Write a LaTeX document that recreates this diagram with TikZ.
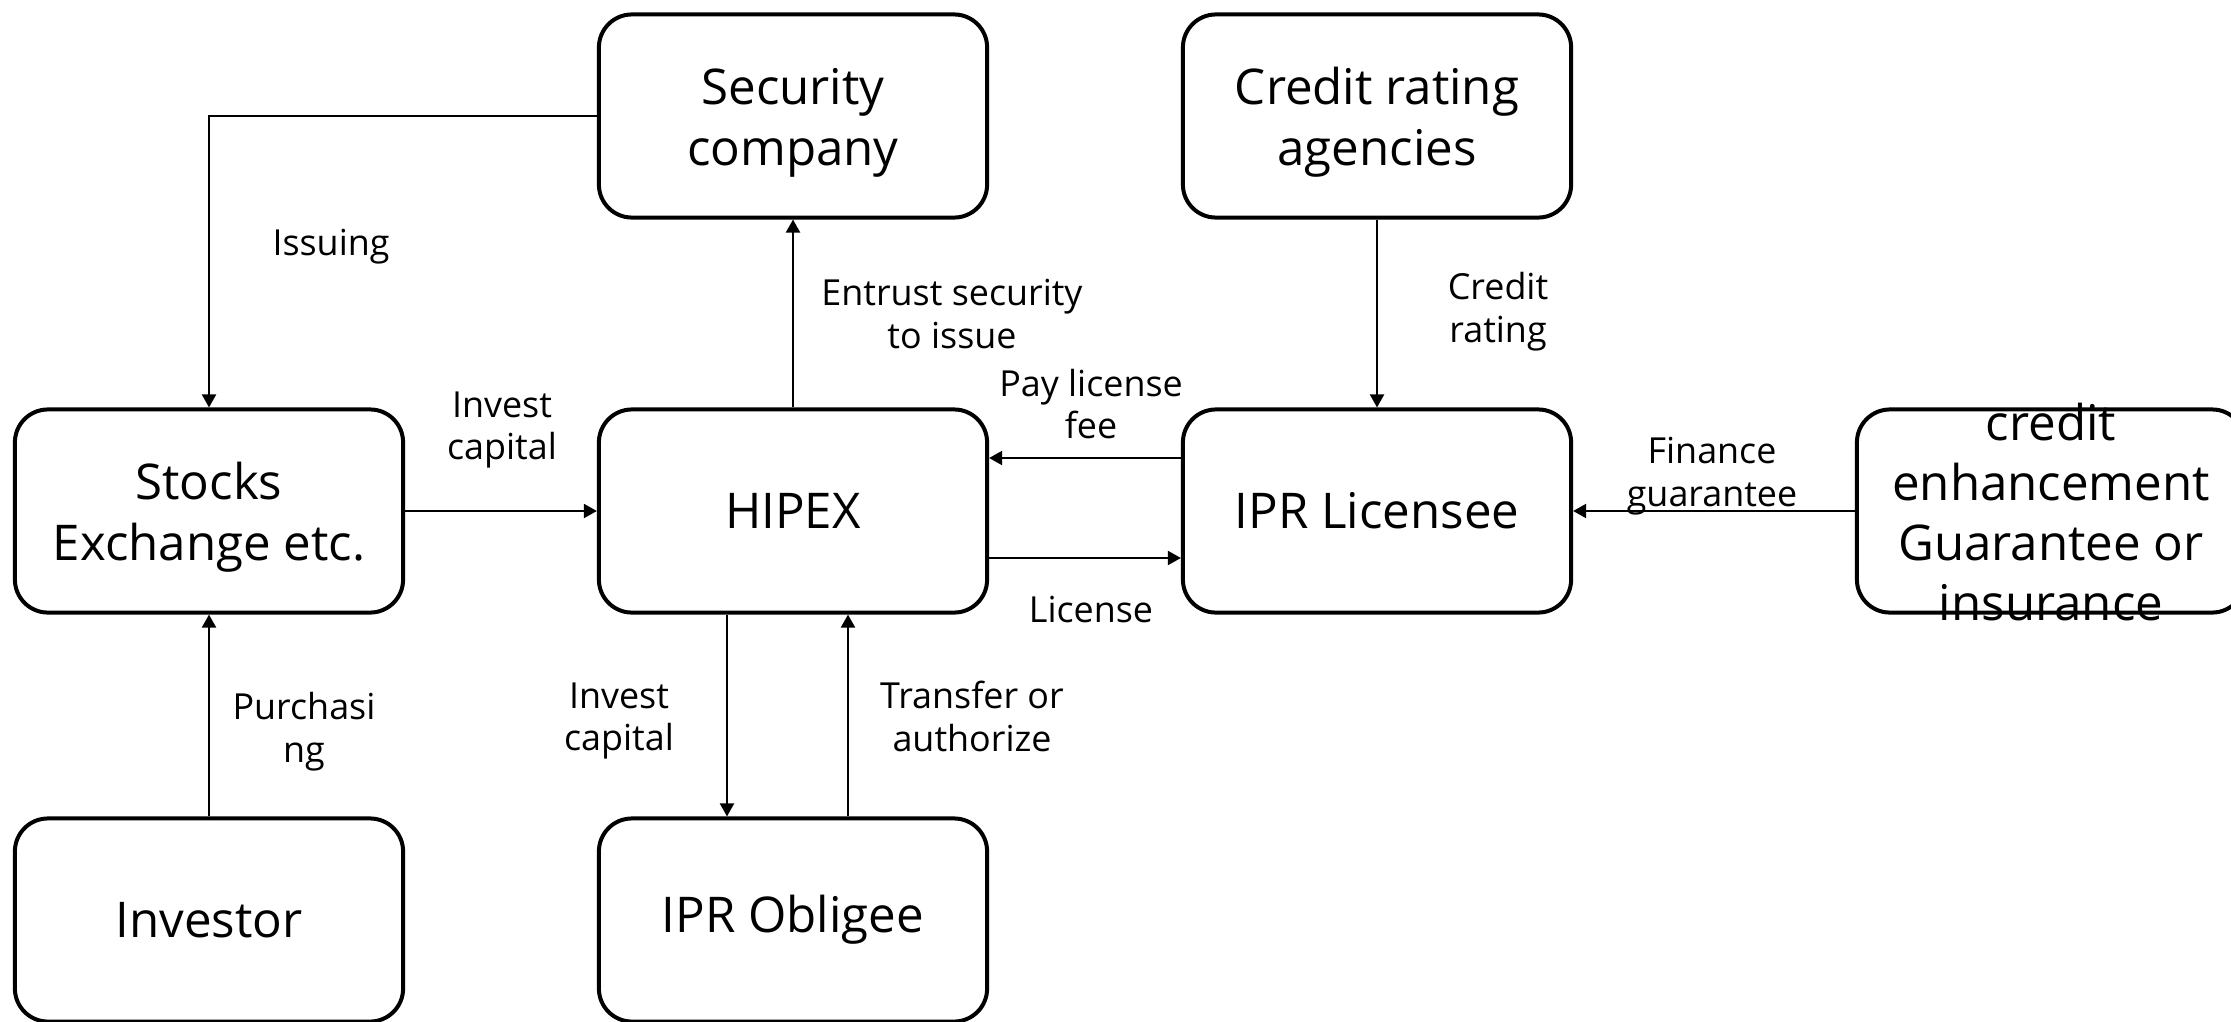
\documentclass[tikz,border=0pt]{standalone}
\usepackage{fontspec}
\setmainfont{Open Sans}
\usetikzlibrary{arrows.meta}
\begin{document}
\begin{tikzpicture}[x=0.01cm,y=-0.01cm,
  box/.style={draw, line width=0.04cm, rounded corners=0.33cm, minimum width=3.88cm, minimum height=2.03cm, inner sep=0pt, align=center, font=\fontsize{14}{17.4}\selectfont},
  boxtext/.style={inner sep=0pt, align=center, font=\fontsize{14}{17.4}\selectfont},
  lbl/.style={align=center, inner sep=0pt, font=\fontsize{10.2}{12.2}\selectfont},
  conn/.style={line width=0.02cm, -{Triangle[length=0.13cm,width=0.14cm]}}]
\useasboundingbox (0,0) rectangle (2231,1021);
% boxes
\node[box, label={[boxtext, yshift=-0.07cm]center:Security\\company}] (sec) at (793,116) {};
\node[box, label={[boxtext, yshift=-0.06cm]center:Credit rating\\agencies}] (cra) at (1377,116) {};
\node[box, label={[boxtext, yshift=-0.06cm]center:Stocks\\Exchange etc.}] (stx) at (209,511) {};
\node[box] (hip) at (793,511) {HIPEX};
\node[box] (lic) at (1377,511) {IPR Licensee};
\node[box] (ce) at (2051,511) {};
\node[boxtext, font=\fontsize{14}{17}\selectfont] (cetext) at (2051,512) {credit\\enhancement\\Guarantee or\\insurance};
\node[box] (inv) at (209,920) {Investor};
\node[box] (obl) at (793,920) {IPR Obligee};
% connectors
\draw[conn] (sec.west) -| (stx.north);
\draw[conn] (hip.north) -- (sec.south);
\draw[conn] (cra.south) -- (lic.north);
\draw[conn] (stx.east) -- (hip.west);
\draw[conn] (lic.west |- 0,458) -- (hip.east |- 0,458);
\draw[conn] (hip.east |- 0,558) -- (lic.west |- 0,558);
\draw[conn] (ce.west) -- (lic.east);
\draw[conn] (inv.north) -- (stx.south);
\draw[conn] (hip.south -| 727,0) -- (obl.north -| 727,0);
\draw[conn] (obl.north -| 848,0) -- (hip.south -| 848,0);
% labels
\node[lbl] (l1) at (331,247) {Issuing};
\node[lbl] (l2) at (952,314) {Entrust security\\to issue};
\node[lbl] (l3) at (1498,312) {Credit\\rating};
\node[lbl] (l4) at (1091,404) {Pay license\\fee};
\node[lbl] (l5) at (1091,610) {License};
\node[lbl] (l6) at (1712,476) {Finance\\guarantee};
\node[lbl] (l7) at (502,430) {Invest\\capital};
\node[lbl] (l8) at (304,732) {Purchasi\\ng};
\node[lbl] (l9) at (619,721) {Invest\\capital};
\node[lbl] (l10) at (972,716) {Transfer or\\authorize};
\end{tikzpicture}
\end{document}
